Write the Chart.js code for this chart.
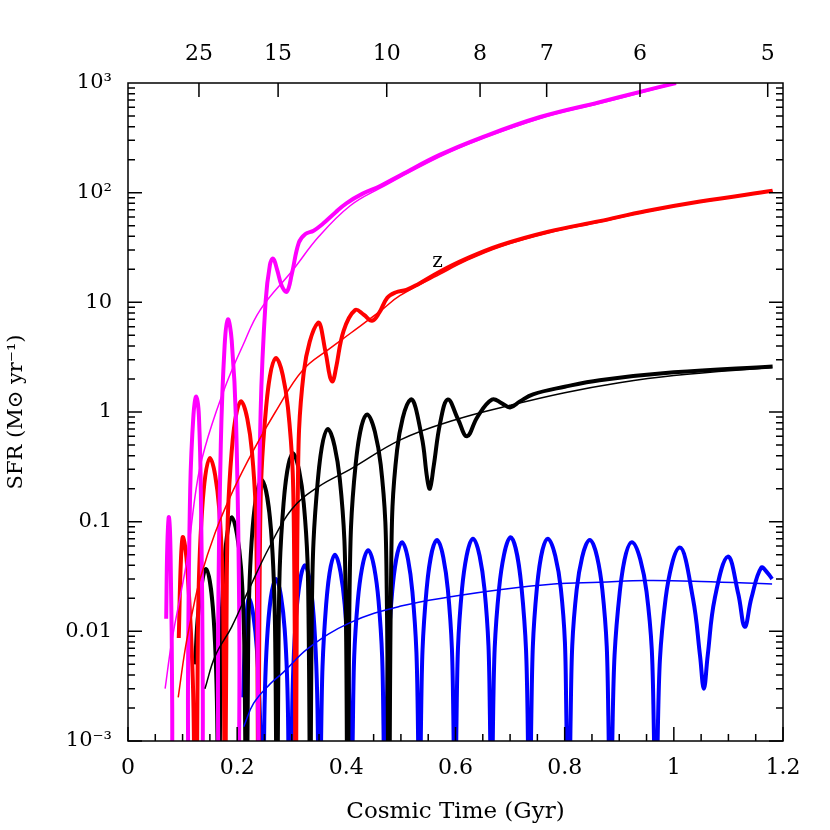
<!DOCTYPE html>
<html>
<head>
<meta charset="utf-8">
<script src="https://cdn.jsdelivr.net/npm/chart.js@4"></script>
<style>
  html, body { margin: 0; padding: 0; background: #fff; }
  #wrap { width: 830px; height: 830px; }
</style>
</head>
<body>
<div id="wrap"><canvas id="chart"></canvas></div>
<script>
// [cosmic time (Gyr), SFR]; 1e-6 marks a dip to zero below the axis
const magentaThick = [
    [0.070, 0.013], [0.072, 0.06], [0.075, 0.11], [0.078, 0.05], [0.081, 0.002], [0.083, 1e-6],
    [0.108, 1e-6], [0.110, 0.004], [0.114, 0.2], [0.120, 0.95], [0.125, 1.38], [0.130, 0.9], [0.134, 0.12], [0.137, 0.003], [0.139, 1e-6],
    [0.163, 1e-6], [0.165, 0.008], [0.170, 0.5], [0.177, 4], [0.183, 7], [0.190, 4.5], [0.198, 0.8], [0.204, 0.01], [0.206, 1e-6],
    [0.236, 1e-6], [0.238, 0.015], [0.243, 1.0], [0.252, 10], [0.260, 22], [0.266, 25], [0.273, 20], [0.282, 14], [0.291, 12.5],
    [0.300, 18], [0.313, 35], [0.325, 42], [0.340, 45], [0.357, 52], [0.38, 66], [0.40, 80], [0.43, 98], [0.462, 115],
    [0.50, 145], [0.571, 221], [0.645, 315], [0.755, 490], [0.864, 670], [0.938, 830], [1.004, 1000]
];
const magentaThin = [
    [0.068, 0.003], [0.08, 0.008], [0.095, 0.02], [0.108, 0.045], [0.128, 0.25], [0.147, 0.6], [0.18, 1.8],
    [0.21, 4], [0.242, 8.5], [0.302, 19.7], [0.35, 40], [0.407, 76], [0.462, 110], [0.571, 212],
    [0.645, 305], [0.755, 475], [0.864, 650], [0.938, 810], [1.0, 980]
];
const redThick = [
    [0.093, 0.0087], [0.097, 0.045], [0.101, 0.072], [0.110, 0.03], [0.120, 0.002], [0.125, 1e-6],
    [0.128, 0.0095], [0.136, 0.133], [0.150, 0.38], [0.167, 0.133], [0.175, 0.0095], [0.178, 1e-6],
    [0.181, 0.031], [0.190, 0.44], [0.207, 1.25], [0.227, 0.44], [0.236, 0.031], [0.239, 1e-6],
    [0.242, 0.078], [0.253, 1.1], [0.271, 3.1], [0.293, 1.1], [0.304, 0.078], [0.307, 1e-6],
    [0.311, 0.16], [0.322, 2.3], [0.348, 6.5], [0.362, 3.5], [0.370, 2.1], [0.375, 1.9], [0.381, 2.5],
    [0.395, 5.5], [0.416, 8.5], [0.432, 7.7], [0.447, 6.8], [0.46, 8], [0.475, 11], [0.49, 12.3],
    [0.51, 13], [0.53, 14.5], [0.571, 19], [0.62, 25], [0.681, 33], [0.77, 44], [0.864, 55],
    [0.95, 68], [1.048, 83], [1.181, 104]
];
const redThin = [
    [0.092, 0.0025], [0.105, 0.007], [0.118, 0.015], [0.132, 0.03], [0.16, 0.08], [0.192, 0.19],
    [0.23, 0.45], [0.27, 1.0], [0.32, 2.4], [0.37, 3.8], [0.407, 5.2], [0.462, 8.3], [0.498, 11.5],
    [0.571, 18], [0.62, 24], [0.681, 32], [0.77, 43], [0.864, 54], [0.95, 67], [1.048, 82], [1.181, 103]
];
const blackThick = [
    [0.123, 0.005], [0.129, 0.015], [0.143, 0.037], [0.157, 0.013], [0.164, 0.0009], [0.166, 1e-6],
    [0.169, 0.0028], [0.176, 0.0385], [0.190, 0.11], [0.207, 0.0385], [0.214, 0.0028], [0.217, 1e-6],
    [0.220, 0.006], [0.228, 0.084], [0.245, 0.24], [0.262, 0.084], [0.270, 0.006], [0.273, 1e-6],
    [0.276, 0.0105], [0.285, 0.147], [0.302, 0.42], [0.322, 0.147], [0.331, 0.0105], [0.334, 1e-6],
    [0.337, 0.0175], [0.348, 0.245], [0.366, 0.7], [0.388, 0.245], [0.399, 0.0175], [0.402, 1e-6],
    [0.406, 0.024], [0.417, 0.33], [0.438, 0.95], [0.463, 0.33], [0.474, 0.024], [0.478, 1e-6],
    [0.482, 0.033], [0.493, 0.45], [0.518, 1.3], [0.538, 0.6], [0.548, 0.25], [0.553, 0.2], [0.560, 0.32],
    [0.572, 0.8], [0.586, 1.3], [0.605, 0.85], [0.621, 0.6], [0.640, 0.9], [0.667, 1.3], [0.685, 1.2],
    [0.700, 1.1], [0.718, 1.25], [0.742, 1.45], [0.8, 1.7], [0.864, 1.95], [1.0, 2.3], [1.181, 2.6]
];
const blackThin = [
    [0.141, 0.003], [0.16, 0.006], [0.19, 0.011], [0.223, 0.025], [0.26, 0.06], [0.30, 0.13],
    [0.35, 0.21], [0.407, 0.3], [0.5, 0.56], [0.6, 0.85], [0.7, 1.15], [0.8, 1.5], [0.9, 1.85],
    [1.0, 2.15], [1.18, 2.55]
];
const blueThick = [
    [0.211, 0.0025], [0.214, 0.007], [0.222, 0.02], [0.236, 0.007], [0.244, 0.0005], [0.246, 1e-6],
    [0.249, 0.00075], [0.256, 0.0105], [0.271, 0.03], [0.287, 0.0105], [0.294, 0.00075], [0.297, 1e-6],
    [0.300, 0.001], [0.308, 0.014], [0.324, 0.04], [0.340, 0.014], [0.348, 0.001], [0.351, 1e-6],
    [0.354, 0.00125], [0.363, 0.0175], [0.379, 0.05], [0.397, 0.0175], [0.406, 0.00125], [0.409, 1e-6],
    [0.412, 0.0014], [0.421, 0.019], [0.440, 0.055], [0.459, 0.019], [0.468, 0.0014], [0.471, 1e-6],
    [0.474, 0.0016], [0.484, 0.023], [0.502, 0.065], [0.521, 0.023], [0.531, 0.0016], [0.534, 1e-6],
    [0.537, 0.0017], [0.547, 0.024], [0.566, 0.068], [0.586, 0.024], [0.596, 0.0017], [0.599, 1e-6],
    [0.602, 0.00175], [0.612, 0.0245], [0.632, 0.07], [0.653, 0.0245], [0.663, 0.00175], [0.666, 1e-6],
    [0.669, 0.0018], [0.680, 0.025], [0.701, 0.072], [0.721, 0.025], [0.732, 0.0018], [0.735, 1e-6],
    [0.739, 0.00175], [0.749, 0.0245], [0.769, 0.07], [0.793, 0.0245], [0.803, 0.00175], [0.807, 1e-6],
    [0.811, 0.0017], [0.822, 0.024], [0.846, 0.068], [0.869, 0.024], [0.880, 0.0017], [0.884, 1e-6],
    [0.888, 0.0016], [0.901, 0.023], [0.923, 0.065], [0.950, 0.023], [0.963, 0.0016], [0.967, 1e-6],
    [0.971, 0.0015], [0.985, 0.02], [1.011, 0.058], [1.035, 0.02], [1.048, 0.006], [1.055, 0.003],
    [1.062, 0.006], [1.075, 0.02], [1.099, 0.048], [1.118, 0.022], [1.130, 0.011], [1.142, 0.02],
    [1.160, 0.038], [1.172, 0.034], [1.180, 0.03]
];
const blueThin = [
    [0.212, 0.00135], [0.23, 0.0022], [0.26, 0.0033], [0.284, 0.0042], [0.33, 0.007], [0.407, 0.012],
    [0.5, 0.017], [0.6, 0.021], [0.681, 0.024], [0.78, 0.027], [0.864, 0.028], [0.95, 0.029],
    [1.05, 0.0285], [1.18, 0.027]
];

const xTicks = [0, 0.2, 0.4, 0.6, 0.8, 1, 1.2];
const xTickLabels = ['0', '0.2', '0.4', '0.6', '0.8', '1', '1.2'];
const yTicks = [0.001, 0.01, 0.1, 1, 10, 100, 1000];
const yTickLabels = ['10\u207B\u00B3', '0.01', '0.1', '1', '10', '10\u00B2', '10\u00B3'];
const zTimes = [0.130, 0.275, 0.474, 0.645, 0.767, 0.938, 1.172];
const zLabels = ['25', '15', '10', '8', '7', '6', '5'];

const FONT = '"DejaVu Serif", "Liberation Serif", serif';

function line(data, color, width) {
    return {
        data: data,
        borderColor: color,
        borderWidth: width,
        pointRadius: 0,
        fill: false,
        tension: 0.4
    };
}

// frame, inward ticks and the "z" note
const framePlugin = {
    id: 'frame',
    afterDraw(chart) {
        const { ctx, chartArea: a, scales } = chart;
        const x = scales.x, y = scales.y, x2 = scales.x2;
        ctx.save();
        ctx.strokeStyle = '#000';
        ctx.lineWidth = 1.5;
        ctx.strokeRect(a.left, a.top, a.right - a.left, a.bottom - a.top);
        ctx.beginPath();
        for (let d = -3; d < 3; d++) {
            for (let m = 1; m <= 9; m++) {
                const py = y.getPixelForValue(m * Math.pow(10, d));
                const len = m === 1 ? 14 : 7;
                ctx.moveTo(a.left, py); ctx.lineTo(a.left + len, py);
                ctx.moveTo(a.right, py); ctx.lineTo(a.right - len, py);
            }
        }
        for (let i = 0; i <= 24; i++) {
            const px = x.getPixelForValue(i * 0.05);
            const len = i % 4 === 0 ? 14 : 7;
            ctx.moveTo(px, a.bottom); ctx.lineTo(px, a.bottom - len);
        }
        zTimes.forEach(t => {
            const px = x2.getPixelForValue(t);
            ctx.moveTo(px, a.top); ctx.lineTo(px, a.top + 14);
        });
        ctx.stroke();
        ctx.fillStyle = '#000';
        ctx.font = '20px ' + FONT;
        ctx.textAlign = 'center';
        ctx.fillText('z', x.getPixelForValue(0.567), y.getPixelForValue(21));
        ctx.restore();
    }
};

new Chart(document.getElementById('chart'), {
    type: 'line',
    data: {
        datasets: [
            line(magentaThin, '#ff00ff', 1.5),
            line(redThin, '#ff0000', 1.5),
            line(blackThin, '#000000', 1.5),
            line(blueThin, '#0000ff', 1.5),
            line(magentaThick, '#ff00ff', 4),
            line(redThick, '#ff0000', 4),
            line(blackThick, '#000000', 4),
            line(blueThick, '#0000ff', 4)
        ]
    },
    plugins: [framePlugin],
    options: {
        responsive: true,
        maintainAspectRatio: false,
        animation: false,
        layout: { padding: { left: 0, right: 47, top: 0, bottom: 0 } },
        plugins: { legend: { display: false }, tooltip: { enabled: false } },
        scales: {
            x: {
                type: 'linear',
                position: 'bottom',
                min: 0, max: 1.2,
                afterBuildTicks: s => { s.ticks = xTicks.map(v => ({ value: v })); },
                afterFit: s => { s.height = 89; },
                grid: { display: false },
                border: { display: false },
                ticks: {
                    color: '#000', padding: 6, maxRotation: 0,
                    font: { family: FONT, size: 22 },
                    callback: (v, i) => xTickLabels[i]
                },
                title: {
                    display: true, text: 'Cosmic Time (Gyr)', color: '#000',
                    font: { family: FONT, size: 23 }, padding: { top: 0 }
                }
            },
            x2: {
                type: 'linear',
                position: 'top',
                min: 0, max: 1.2,
                afterBuildTicks: s => { s.ticks = zTimes.map(v => ({ value: v })); },
                afterFit: s => { s.height = 83; },
                grid: { display: false },
                border: { display: false },
                ticks: {
                    color: '#000', padding: 8, maxRotation: 0, autoSkip: false,
                    font: { family: FONT, size: 22 },
                    callback: (v, i) => zLabels[i]
                }
            },
            y: {
                type: 'logarithmic',
                min: 0.001, max: 1000,
                afterBuildTicks: s => { s.ticks = yTicks.map(v => ({ value: v })); },
                afterFit: s => { s.width = 128; },
                grid: { display: false },
                border: { display: false },
                ticks: {
                    color: '#000', padding: 8, autoSkip: false,
                    font: { family: FONT, size: 21 },
                    callback: (v, i) => yTickLabels[i]
                },
                title: {
                    display: true, text: 'SFR (M\u2299 yr\u207B\u00B9)', color: '#000',
                    font: { family: FONT, size: 21 }, padding: { bottom: 2 }
                }
            }
        }
    }
});
</script>
</body>
</html>
